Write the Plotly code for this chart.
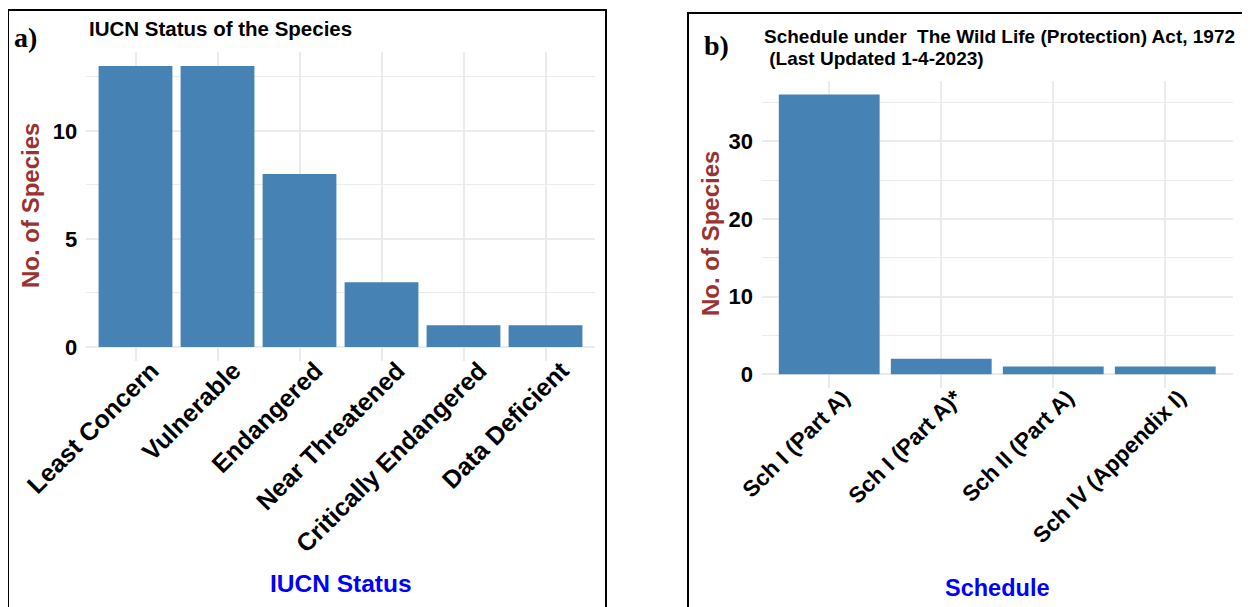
import plotly.graph_objects as go

# ---------------- data ----------------
iucn_categories = ["Least Concern", "Vulnerable", "Endangered", "Near Threatened",
                   "Critically Endangered", "Data Deficient"]
iucn_counts = [13, 13, 8, 3, 1, 1]

schedule_categories = ["Sch I (Part A)", "Sch I (Part A)*", "Sch II (Part A)", "Sch IV (Appendix I)"]
schedule_counts = [36, 2, 1, 1]

left_yticks = [0, 5, 10]
right_yticks = [0, 10, 20, 30]

# ---------------- layout helpers ----------------
# the page body adds an 8px margin, so the figure is drawn 8px in from the corner
OFF = 8
W, H = 1250 - OFF, 607 - OFF
def px(x):
    return (x - OFF) / W
def py(y):
    return 1 - (y - OFF) / H

BAR = "#4682B4"
GRID = "#EBEBEB"
FONT = "Liberation Sans, Arial, sans-serif"
SERIF = "Liberation Serif, Times New Roman, serif"

fig = go.Figure()
fig.add_trace(go.Bar(x=iucn_categories, y=iucn_counts, marker_color=BAR,
                     marker_line_width=0, xaxis="x", yaxis="y", showlegend=False))
fig.add_trace(go.Bar(x=schedule_categories, y=schedule_counts, marker_color=BAR,
                     marker_line_width=0, xaxis="x2", yaxis="y2", showlegend=False))

tickfont_y = dict(family=FONT, size=22, color="black", weight="bold")

common_x = dict(type="category", showgrid=True, gridcolor=GRID, gridwidth=2,
                zeroline=False, showline=False, tickangle=-45, ticks="",
                automargin=False, fixedrange=True)
common_y = dict(showgrid=True, gridcolor=GRID, gridwidth=2, zeroline=False,
                showline=False, ticks="", ticklabelstandoff=8,
                automargin=False, fixedrange=True)

fig.update_layout(
    template="none",
    width=W, height=H, autosize=False,
    margin=dict(l=0, r=0, t=0, b=0, pad=0),
    paper_bgcolor="white", plot_bgcolor="white",
    bargap=0.1,
    xaxis=dict(domain=[px(86.3), px(594.7)], anchor="y", range=[-0.6, 5.6],
               tickfont=dict(family=FONT, size=25, color="black", weight="bold"),
               ticklabelshift=16, ticklabelstandoff=-11,
               **common_x),
    yaxis=dict(domain=[py(361), py(52)], anchor="x", range=[-0.65, 13.65],
               tickvals=left_yticks, tickfont=tickfont_y,
               minor=dict(dtick=2.5, tick0=0, showgrid=True, gridcolor=GRID, gridwidth=1),
               **common_y),
    xaxis2=dict(domain=[px(762), px(1232.5)], anchor="y2", range=[-0.6, 3.6],
                tickfont=dict(family=FONT, size=22.5, color="black", weight="bold"),
                ticklabelshift=14, ticklabelstandoff=-9,
                **common_x),
    yaxis2=dict(domain=[py(388.3), py(80.6)], anchor="x2", range=[-1.8, 37.8],
                tickvals=right_yticks, tickfont=tickfont_y,
                minor=dict(dtick=5, tick0=0, showgrid=True, gridcolor=GRID, gridwidth=1),
                **common_y),
)

# panel borders
fig.add_shape(type="rect", xref="paper", yref="paper",
              x0=px(8), x1=px(606), y0=py(640), y1=py(10),
              line=dict(color="black", width=2), fillcolor="rgba(0,0,0,0)")
fig.add_shape(type="rect", xref="paper", yref="paper",
              x0=px(688), x1=px(1243), y0=py(640), y1=py(13),
              line=dict(color="black", width=2), fillcolor="rgba(0,0,0,0)")

def ann(text, x, y, size, color="black", family=FONT, xanchor="center",
        yanchor="middle", angle=0, weight="bold"):
    fig.add_annotation(text=text, x=px(x), y=py(y), xref="paper", yref="paper",
                       showarrow=False, xanchor=xanchor, yanchor=yanchor,
                       textangle=angle,
                       font=dict(family=family, size=size, color=color, weight=weight))

# panel tags
ann("a)", 12, 37, 28, family=SERIF, xanchor="left")
ann("b)", 702, 46, 28, family=SERIF, xanchor="left")

# titles
ann("IUCN Status of the Species", 87, 29, 20.5, xanchor="left")
ann("Schedule under&nbsp; The Wild Life (Protection) Act, 1972", 762, 36, 19, xanchor="left")
ann("&nbsp;(Last Updated 1-4-2023)", 762, 59, 19, xanchor="left")

# axis titles
ann("No. of Species", 30, 206, 24, color="#993333", angle=-90)
ann("No. of Species", 710, 234, 24, color="#993333", angle=-90)
ann("IUCN Status", 340.5, 583, 24.5, color="#0000FF")
ann("Schedule", 997, 588, 23.5, color="#0000FF")

fig.write_html("out.html")
